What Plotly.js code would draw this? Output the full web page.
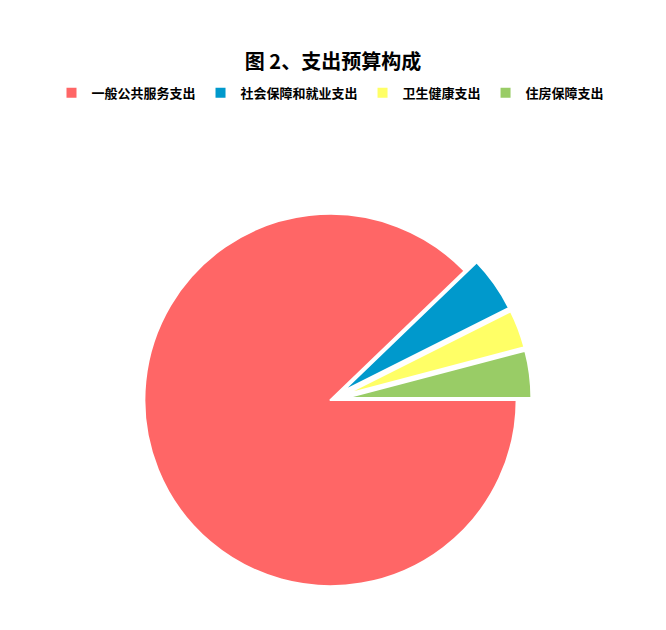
<!DOCTYPE html>
<html>
<head>
<meta charset="utf-8">
<script src="https://cdn.plot.ly/plotly-3.0.1.min.js"></script>
<style>
  html, body { margin: 0; padding: 0; background: #fff; }
  #chart { width: 666px; height: 630px; }
</style>
</head>
<body>
<div id="chart"></div>
<script>
(function () {
  'use strict';

  /* Budget composition (share, %) */
  var categories = ['一般公共服务支出', '社会保障和就业支出', '卫生健康支出', '住房保障支出'];
  var shares     = [87.8, 4.8, 3.3, 4.1];
  var colors     = ['#FF6666', '#0099CC', '#FFFF66', '#99CC66'];
  var pulls      = [0, 0.08, 0.08, 0.08];

  var FONT = '"Noto Sans CJK SC", "Noto Sans", sans-serif';

  var pieTrace = {
    type: 'pie',
    labels: categories,
    values: shares,
    sort: false,
    direction: 'clockwise',
    rotation: 90,
    pull: pulls,
    textinfo: 'none',
    hoverinfo: 'label+percent',
    marker: { colors: colors, line: { color: '#ffffff', width: 2 } },
  };

  var layout = {
    width: 666,
    height: 630,
    margin: { l: 40, r: 45, t: 199, b: 29 },
    title: {
      text: '<b>图 2、支出预算构成</b>',
      x: 0.5, xanchor: 'center',
      y: 0.902, yanchor: 'middle',
      font: { family: FONT, size: 20, color: '#000' },
    },
    legend: {
      orientation: 'h',
      x: 0.5, xanchor: 'center',
      y: 1.264, yanchor: 'middle',
      font: { family: FONT, size: 13, color: '#000', weight: 'bold' },
      itemwidth: 30,
      tracegroupgap: 0,
    },
    showlegend: true,
    paper_bgcolor: '#ffffff',
    plot_bgcolor: '#ffffff',
  };

  Plotly.newPlot('chart', [pieTrace], layout, { displayModeBar: false, staticPlot: true });
})();
</script>
</body>
</html>
